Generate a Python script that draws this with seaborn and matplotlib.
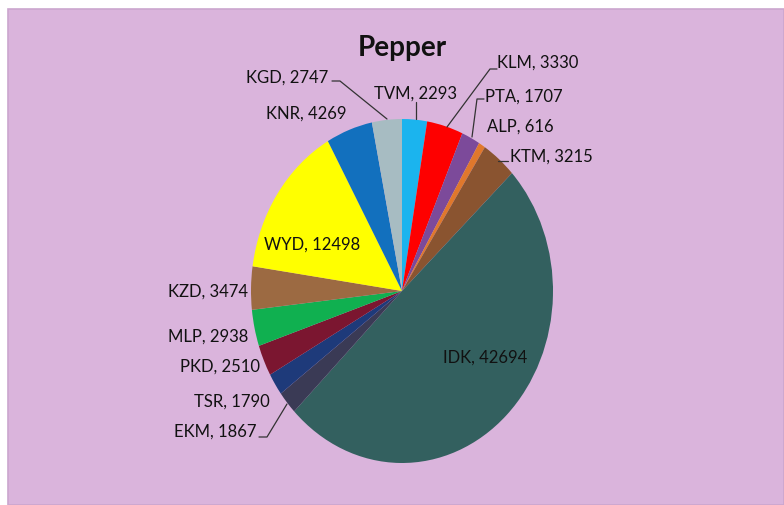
import seaborn as sns
import matplotlib
matplotlib.use("Agg")
import matplotlib.pyplot as plt
from matplotlib.patches import Rectangle

# district-wise pepper data
districts = ["TVM", "KLM", "PTA", "ALP", "KTM", "IDK", "EKM",
             "TSR", "PKD", "MLP", "KZD", "WYD", "KNR", "KGD"]
values = [2293, 3330, 1707, 616, 3215, 42694, 1867,
          1790, 2510, 2938, 3474, 12498, 4269, 2747]
slice_colors = ["#1BB4EE", "#FE0000", "#7C4A9A", "#E0782C", "#8A5430",
                "#33605F", "#3A3A55", "#1E3A7A", "#7B1630", "#10B050",
                "#9C6A42", "#FFFF00", "#1270BE", "#A7BCC2"]

sns.set_style("white")
plt.rcParams["font.family"] = ["Lato", "DejaVu Sans"]

W, H = 784, 506
fig = plt.figure(figsize=(W / 100, H / 100), dpi=100, facecolor="white")
fig.patches.append(Rectangle((8 / W, 0), 1 - 8 / W, (H - 10) / H,
                             transform=fig.transFigure, facecolor="#DAB4DC",
                             edgecolor="#CBA6CE", linewidth=1.2, zorder=-10))

ax = fig.add_axes([0, 0, 1, 1])
ax.patch.set_alpha(0)
ax.axis("off")

pal = sns.color_palette(slice_colors)
ax.pie(values, colors=pal, startangle=90, counterclock=False,
       wedgeprops=dict(linewidth=0))

# pie centre and radii in pixels (stretched ellipse)
cx, cy, rx, ry = 402, 292, 151, 172
ax.set_aspect("auto")
ax.set_xlim(-cx / rx, (W - cx) / rx)
ax.set_ylim(-(H - cy) / ry, cy / ry)


def px(x, y):
    return (x - cx) / rx, (cy - y) / ry


lab_fs = 12
# label layout: (x, y in pixels from top-left, horizontal alignment)
label_pos = {
    "TVM": (415, 94, "center"), "KLM": (497, 63, "left"),
    "PTA": (485, 97, "left"), "ALP": (487, 127, "left"),
    "KTM": (510, 157, "left"), "IDK": (485, 358, "center"),
    "EKM": (257, 432, "right"), "TSR": (270, 402, "right"),
    "PKD": (260, 367, "right"), "MLP": (248, 337, "right"),
    "KZD": (248, 292, "right"), "WYD": (312, 245, "center"),
    "KNR": (346, 114, "right"), "KGD": (328, 78, "right"),
}
for d, v in zip(districts, values):
    x, y, ha = label_pos[d]
    ax.text(*px(x, y), f"{d}, {v}", ha=ha, va="center", fontsize=lab_fs,
            color="#111111")

# leader lines
leaders = [
    [(332, 82), (340, 82), (387, 120)],
    [(416, 103), (416, 120)],
    [(497, 70), (490, 70), (447, 128)],
    [(484, 100), (477, 100), (472, 138)],
    [(498, 162), (508, 162)],
    [(259, 438), (267, 438), (287, 405)],
]
for pts in leaders:
    xs, ys = zip(*[px(a, b) for a, b in pts])
    ax.plot(xs, ys, color="#333333", linewidth=0.9, clip_on=False)

ax.text(*px(402, 48), "Pepper", ha="center", va="center", fontsize=20,
        fontweight="bold", color="#111111")

fig.savefig("out.png", dpi=100, facecolor=fig.get_facecolor())
